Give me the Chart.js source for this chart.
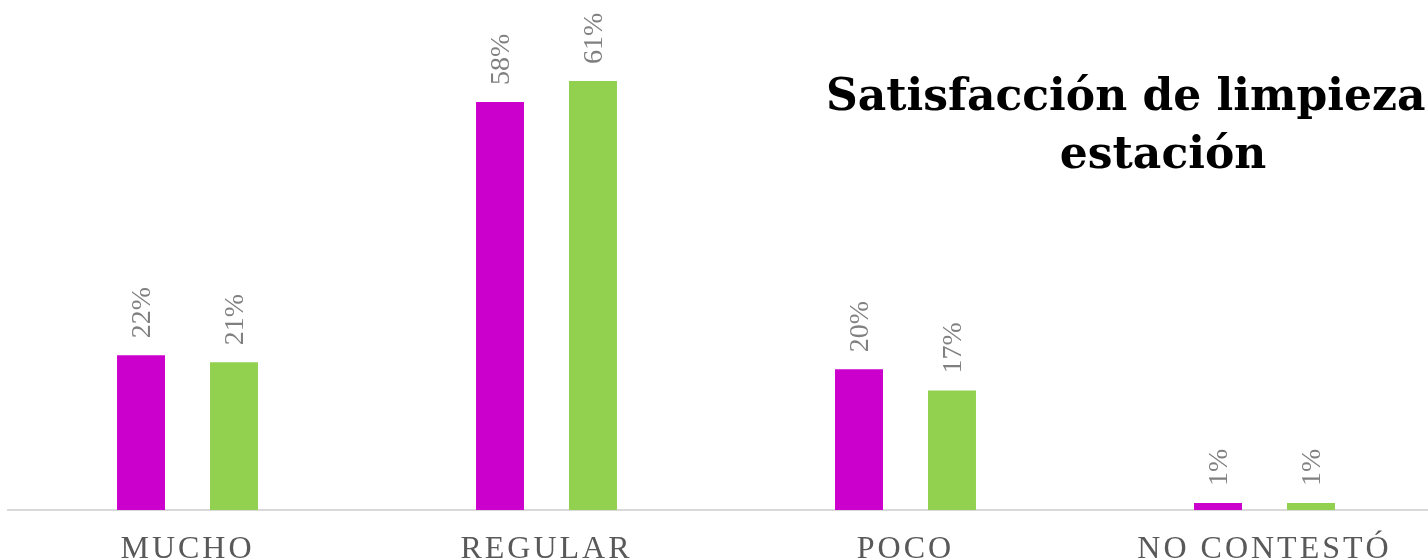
<!DOCTYPE html>
<html>
<head>
<meta charset="utf-8">
<script src="https://cdn.jsdelivr.net/npm/chart.js@4"></script>
<style>
  body { margin: 0; overflow: hidden; background: #fff; }
  #wrap { position: absolute; left: 0; top: 0; width: 1452px; height: 560px; }
</style>
</head>
<body>
<div id="wrap"><canvas id="chart" width="1452" height="560"></canvas></div>
<script>
// Data
const categories = ['MUCHO', 'REGULAR', 'POCO', 'NO CONTESTÓ'];
const seriesA = [22, 58, 20, 1];
const seriesB = [21, 61, 17, 1];
const titleLines = ['Satisfacción de limpieza', 'estación'];

const ctx = document.getElementById('chart').getContext('2d');

// Rotated value labels above each bar
const valueLabels = {
  id: 'valueLabels',
  afterDatasetsDraw(chart) {
    const c = chart.ctx;
    c.save();
    c.letterSpacing = '0px';
    c.font = '28px "Liberation Serif"';
    c.fillStyle = '#808080';
    c.textAlign = 'left';
    c.textBaseline = 'middle';
    chart.data.datasets.forEach((ds, i) => {
      chart.getDatasetMeta(i).data.forEach((bar, j) => {
        c.save();
        c.translate(bar.x + 2, bar.y - 17);
        c.rotate(-Math.PI / 2);
        c.fillText(ds.data[j] + '%', 0, 0);
        c.restore();
      });
    });
    c.restore();
  }
};

// Title drawn at the upper right
const sideTitle = {
  id: 'sideTitle',
  afterDraw(chart) {
    const c = chart.ctx;
    c.save();
    c.letterSpacing = '0px';
    c.font = 'bold 44px "DejaVu Serif"';
    c.fillStyle = '#000';
    c.textBaseline = 'alphabetic';
    c.textAlign = 'left';
    c.fillText(titleLines[0], 826, 110);
    c.textAlign = 'center';
    c.fillText(titleLines[1], 1163, 168);
    c.restore();
  }
};

// Spaced-out axis letters (only while the scales are drawn)
const spacing = {
  id: 'spacing',
  beforeDraw(chart) { chart.ctx.letterSpacing = '3px'; },
  beforeDatasetsDraw(chart) { chart.ctx.letterSpacing = '0px'; }
};

new Chart(ctx, {
  type: 'bar',
  data: {
    labels: categories,
    datasets: [
      { data: seriesA, backgroundColor: '#CC00CC' },
      { data: seriesB, backgroundColor: '#92D050' }
    ]
  },
  options: {
    responsive: false,
    animation: false,
    devicePixelRatio: 1,
    layout: { padding: { left: 8, right: 8, top: 0, bottom: 0 } },
    datasets: { bar: { categoryPercentage: 0.518, barPercentage: 0.516 } },
    plugins: {
      legend: { display: false },
      tooltip: { enabled: false },
      title: { display: false }
    },
    scales: {
      x: {
        grid: { display: false, drawTicks: false },
        border: { color: '#d9d9d9', width: 2 },
        afterFit(scale) { scale.height = 50; },
        ticks: {
          color: '#595959',
          font: { family: '"Liberation Serif"', size: 32 },
          padding: 20,
          maxRotation: 0,
          autoSkip: false
        }
      },
      y: { display: false, min: 0, max: 72.5 }
    }
  },
  plugins: [valueLabels, sideTitle, spacing]
});
</script>
</body>
</html>
